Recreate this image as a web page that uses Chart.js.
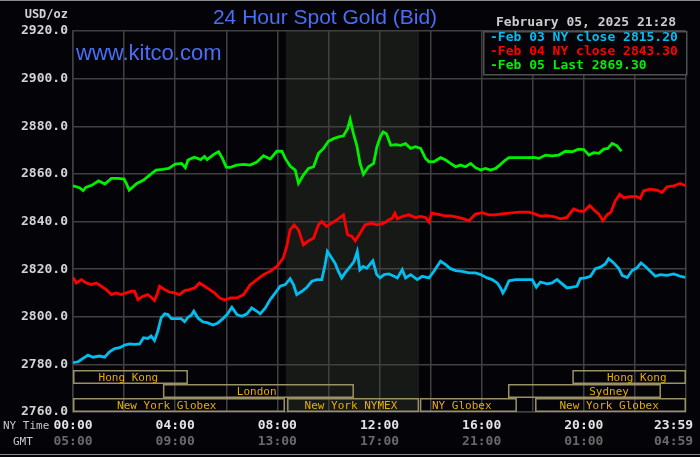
<!DOCTYPE html>
<html><head><meta charset="utf-8">
<script src="https://cdn.jsdelivr.net/npm/chart.js@4.4.1/dist/chart.umd.min.js"></script>
<style>html,body{margin:0;padding:0;background:#040308;overflow:hidden}</style>
</head><body>
<canvas id="c" width="700" height="457"></canvas>
<script>
// ---- data (hours after 00:00 NY time, USD/oz) ----
const cyanHours = [0,0.2,0.39,0.59,0.78,1.04,1.24,1.43,1.63,1.83,2.02,2.22,2.41,2.61,2.76,2.93,3.06,3.19,3.32,3.45,3.59,3.72,3.85,4.04,4.24,4.37,4.5,4.63,4.73,4.89,5.08,5.28,5.48,5.67,5.87,6.03,6.22,6.42,6.61,6.81,7.0,7.2,7.33,7.53,7.72,7.92,8.11,8.31,8.5,8.63,8.76,8.96,9.16,9.35,9.55,9.74,9.87,9.96,10.09,10.26,10.39,10.52,10.65,10.85,11.0,11.13,11.23,11.36,11.5,11.74,11.89,12.02,12.18,12.37,12.57,12.7,12.89,13.02,13.22,13.48,13.67,13.94,14.13,14.39,14.59,14.78,14.98,15.24,15.5,15.76,15.96,16.22,16.41,16.61,16.74,16.83,16.93,17.07,17.33,17.72,17.98,18.14,18.3,18.56,18.76,18.95,19.15,19.34,19.54,19.73,19.86,20.06,20.26,20.45,20.65,20.84,20.97,21.17,21.37,21.5,21.7,21.89,22.08,22.24,22.41,22.6,22.8,22.99,23.26,23.52,23.78,23.97];
const cyanPrices = [2780.7,2781.1,2782.5,2783.9,2783.0,2783.5,2783.0,2785.3,2786.6,2787.0,2788.1,2788.6,2788.4,2788.6,2791.2,2790.9,2791.9,2790.0,2793.9,2799.5,2801.2,2800.9,2799.2,2799.2,2799.2,2797.9,2799.8,2800.6,2802.3,2799.5,2797.9,2797.4,2796.5,2797.4,2799.2,2800.9,2804.0,2800.9,2800.2,2801.2,2803.7,2802.3,2801.2,2803.7,2807.2,2810.0,2812.8,2813.5,2816.0,2813.5,2809.3,2810.7,2812.4,2814.9,2815.6,2815.6,2821.8,2827.4,2825.3,2822.5,2819.0,2816.3,2818.4,2821.1,2823.2,2827.4,2819.7,2821.1,2820.4,2823.5,2817.7,2816.3,2817.7,2818.0,2817.0,2816.3,2819.8,2816.3,2817.7,2815.6,2817.0,2816.3,2819.1,2823.3,2821.9,2820.2,2819.4,2819.1,2818.4,2818.4,2817.7,2816.3,2815.6,2814.2,2812.1,2810.0,2811.8,2815.1,2815.6,2815.6,2815.6,2812.4,2814.6,2813.8,2814.2,2815.6,2813.8,2812.1,2812.4,2812.8,2816.0,2816.3,2817.0,2820.2,2820.8,2822.2,2824.4,2822.6,2820.2,2817.4,2816.5,2819.4,2820.5,2822.6,2821.1,2819.1,2817.0,2817.7,2817.4,2818.0,2817.0,2816.5];

const redHours = [0,0.13,0.33,0.52,0.72,0.91,1.11,1.3,1.5,1.69,1.89,2.09,2.28,2.41,2.54,2.74,2.93,3.06,3.19,3.29,3.39,3.59,3.78,3.98,4.17,4.37,4.56,4.76,4.95,5.15,5.35,5.54,5.74,5.93,6.16,6.42,6.68,6.94,7.2,7.46,7.72,7.98,8.23,8.37,8.5,8.66,8.83,9.02,9.22,9.42,9.61,9.74,9.93,10.12,10.33,10.59,10.75,10.92,11.05,11.24,11.44,11.7,11.89,12.18,12.37,12.5,12.6,12.7,12.89,13.15,13.41,13.61,13.8,13.94,14.04,14.26,14.52,14.78,15.04,15.3,15.5,15.76,16.02,16.28,16.54,16.8,17.07,17.46,17.85,18.04,18.3,18.56,18.82,19.08,19.34,19.47,19.6,19.8,20.0,20.23,20.39,20.59,20.75,20.91,21.06,21.23,21.4,21.56,21.82,22.08,22.21,22.34,22.6,22.86,23.06,23.26,23.52,23.78,23.98];
const redPrices = [2816.5,2814.2,2815.6,2814.2,2813.5,2814.2,2812.8,2811.4,2809.3,2810.0,2809.3,2810.0,2810.7,2810.7,2807.2,2808.6,2809.3,2808.2,2806.8,2809.3,2812.8,2811.4,2810.3,2810.0,2809.3,2811.0,2811.4,2812.1,2814.2,2812.8,2811.4,2810.0,2807.9,2807.0,2807.9,2807.9,2809.3,2813.5,2815.6,2817.7,2819.1,2821.1,2824.6,2829.5,2836.5,2838.6,2836.5,2830.2,2831.9,2833.0,2838.6,2840.0,2837.9,2839.3,2840.7,2842.8,2834.4,2833.7,2831.9,2835.1,2838.6,2839.3,2838.6,2839.3,2840.7,2841.4,2843.5,2841.1,2842.1,2842.8,2841.7,2842.1,2841.7,2839.7,2843.5,2843.1,2842.5,2842.4,2841.8,2841.1,2840.3,2843.1,2843.7,2842.8,2842.8,2843.2,2843.5,2843.9,2843.9,2843.3,2842.3,2842.5,2842.1,2841.1,2841.7,2843.5,2845.3,2844.5,2844.2,2846.7,2844.9,2843.1,2840.3,2842.8,2843.9,2848.6,2851.4,2850.0,2850.4,2850.4,2849.7,2852.8,2853.6,2853.2,2852.2,2854.6,2855.0,2856.0,2855.0];

const greenHours = [0,0.25,0.4,0.5,0.75,1.0,1.25,1.5,1.75,2.0,2.1,2.2,2.5,2.75,3.0,3.25,3.5,3.75,4.0,4.25,4.4,4.5,4.75,5.0,5.15,5.25,5.5,5.7,5.85,6.0,6.15,6.4,6.68,6.94,7.2,7.46,7.72,7.98,8.18,8.31,8.5,8.7,8.83,9.02,9.22,9.42,9.61,9.81,10.0,10.2,10.4,10.59,10.75,10.85,10.98,11.11,11.24,11.37,11.57,11.77,11.9,12.03,12.14,12.27,12.44,12.63,12.83,13.02,13.22,13.41,13.61,13.8,13.94,14.13,14.39,14.59,14.78,14.98,15.17,15.37,15.57,15.76,15.96,16.15,16.35,16.55,16.74,16.93,17.07,17.46,17.85,18.04,18.24,18.5,18.76,19.02,19.28,19.54,19.8,20.0,20.2,20.39,20.59,20.78,20.94,21.11,21.3,21.47];
const greenPrices = [2855.0,2854.2,2853.0,2854.3,2855.3,2857.1,2855.7,2858.1,2858.1,2857.8,2855.7,2853.2,2856.0,2857.3,2859.5,2861.6,2861.9,2862.3,2864.1,2864.4,2862.6,2865.8,2867.0,2866.0,2867.3,2866.0,2868.1,2869.3,2866.5,2862.8,2862.7,2863.7,2864.0,2863.7,2865.0,2867.6,2866.2,2869.5,2869.5,2866.5,2863.3,2861.6,2856.0,2859.5,2862.3,2863.0,2868.6,2870.7,2873.7,2874.8,2875.5,2876.0,2879.0,2882.9,2876.9,2872.0,2864.4,2859.8,2863.0,2864.4,2871.4,2875.5,2877.6,2876.9,2872.0,2872.3,2872.0,2872.7,2870.7,2871.4,2870.7,2866.5,2865.1,2865.1,2866.8,2865.8,2864.4,2863.0,2863.7,2863.0,2864.4,2862.6,2861.6,2862.3,2861.6,2862.3,2864.0,2865.8,2866.8,2866.8,2866.8,2866.9,2866.5,2867.9,2867.6,2867.9,2869.5,2869.3,2870.4,2870.2,2867.9,2868.9,2868.6,2870.4,2870.7,2872.8,2871.8,2869.5];

const legendLabels = ['Feb 03 NY close 2815.20', 'Feb 04 NY close 2843.30', 'Feb 05 Last 2869.30'];
const nyTickHours = [0, 4, 8, 12, 16, 20, 23.983];
const nyTickLabels = ['00:00', '04:00', '08:00', '12:00', '16:00', '20:00', '23:59'];
const gmtTickLabels = ['05:00', '09:00', '13:00', '17:00', '21:00', '01:00', '04:59'];
const gridHours = [0,2,4,6,8,10,12,14,16,18,20,22,24];
const nymexHours = [8.33, 13.55];
// sessions: row, start hour, end hour, label, label centre hour
const sessionRows = [1,1,2,2,3,3,3,3];
const sessionStart = [0, 19.55, 3.52, 17.03, 0, 8.38, 13.58, 18.09];
const sessionEnd = [4.5, 24, 11.0, 23.02, 8.3, 13.55, 17.38, 24];
const sessionNames = ['Hong Kong','Hong Kong','London','Sydney','New York Globex','New York NYMEX','NY Globex','New York Globex'];
const sessionLabelAt = [2.17, 22.07, 7.19, 20.99, 3.67, 10.88, 15.22, 20.99];

const BG = '#040308';
const GRID = '#404040';
const MONO = '"DejaVu Sans Mono", monospace';
const lineColors = ['#00bff0', '#ff0000', '#00f000'];

const pts = (h, p) => h.map((v, i) => ({x: v, y: p[i]}));

const deco = {
  id: 'deco',
  beforeDraw(chart) {
    const {ctx, chartArea: a, scales: {x}} = chart;
    ctx.save();
    ctx.fillStyle = BG;
    ctx.fillRect(0, 0, chart.width, chart.height);
    const x0 = x.getPixelForValue(nymexHours[0]), x1 = x.getPixelForValue(nymexHours[1]);
    ctx.fillStyle = '#171917';
    ctx.fillRect(x0, a.top, x1 - x0, a.bottom - a.top);
    ctx.restore();
  },
  afterDraw(chart) {
    const {ctx, chartArea: a, scales: {x}} = chart;
    ctx.save();
    // frame lines
    ctx.fillStyle = '#8a8a8a';
    ctx.fillRect(0, 0, chart.width, 1);
    ctx.fillRect(0, 454, chart.width, 1);
    // sessions
    const rowH = 14;
    ctx.lineWidth = 1.5;
    ctx.strokeStyle = '#9a9266';
    ctx.font = '11px ' + MONO;
    ctx.textAlign = 'center';
    ctx.textBaseline = 'middle';
    for (let i = 0; i < sessionNames.length; i++) {
      const top = a.bottom - (4 - sessionRows[i]) * rowH;
      const xs = x.getPixelForValue(sessionStart[i]);
      const xe = x.getPixelForValue(sessionEnd[i]);
      ctx.strokeRect(xs + 0.75, top + 0.75, xe - xs - 1.5, rowH - 1.5);
    }
    ctx.fillStyle = '#e6ae00';
    for (let i = 0; i < sessionNames.length; i++) {
      const top = a.bottom - (4 - sessionRows[i]) * rowH;
      ctx.fillText(sessionNames[i], x.getPixelForValue(sessionLabelAt[i]), top + rowH / 2 + 1);
    }
    // x labels
    ctx.font = 'bold 13px ' + MONO;
    nyTickHours.forEach((h, i) => {
      let px = x.getPixelForValue(h);
      if (i === nyTickHours.length - 1) px -= 12;
      ctx.fillStyle = '#e4e4e4';
      ctx.fillText(nyTickLabels[i], px, 426);
      ctx.fillStyle = '#6a6a6a';
      ctx.fillText(gmtTickLabels[i], px, 442);
    });
    ctx.font = '11px ' + MONO;
    ctx.textAlign = 'left';
    ctx.fillStyle = '#c8c8c8';
    ctx.fillText('NY Time', 3, 426);
    ctx.fillText('GMT', 13, 442);
    // unit
    ctx.font = 'bold 12px ' + MONO;
    ctx.textAlign = 'right';
    ctx.fillStyle = '#d4d4d4';
    ctx.fillText('USD/oz', 68, 15);
    // title
    ctx.font = '21px "Liberation Sans", Arial, sans-serif';
    ctx.textAlign = 'center';
    ctx.fillStyle = '#4a6ef5';
    ctx.fillText('24 Hour Spot Gold (Bid)', 325, 18);
    ctx.font = '22px "Liberation Sans", Arial, sans-serif';
    ctx.textAlign = 'left';
    ctx.fillText('www.kitco.com', 76, 54);
    // date
    ctx.font = 'bold 13px ' + MONO;
    ctx.fillStyle = '#cccccc';
    ctx.fillText('February 05, 2025 21:28', 496, 23);
    // legend box
    ctx.fillStyle = BG;
    ctx.fillRect(483, a.top, 204, 44);
    ctx.strokeStyle = '#505050';
    ctx.lineWidth = 1.5;
    ctx.strokeRect(483.75, a.top + 0.75, 203, 43);
    legendLabels.forEach((t, i) => {
      ctx.fillStyle = lineColors[i];
      ctx.fillText('-' + t, 490, a.top + 7 + i * 14);
    });
    ctx.restore();
  }
};

new Chart(document.getElementById('c'), {
  type: 'line',
  data: {
    datasets: [
      {data: pts(cyanHours, cyanPrices), borderColor: lineColors[0]},
      {data: pts(redHours, redPrices), borderColor: lineColors[1]},
      {data: pts(greenHours, greenPrices), borderColor: lineColors[2]}
    ].map(d => Object.assign(d, {borderWidth: 2.8, pointRadius: 0, tension: 0, fill: false}))
  },
  options: {
    responsive: false, animation: false, devicePixelRatio: 1,
    layout: {padding: {top: 31, right: 14, left: 0, bottom: 0}},
    plugins: {legend: {display: false}, tooltip: {enabled: false}, title: {display: false}},
    scales: {
      x: {
        type: 'linear', min: 0, max: 24,
        afterBuildTicks: s => { s.ticks = gridHours.map(v => ({value: v})); },
        ticks: {display: false},
        grid: {color: GRID, lineWidth: 1.5, drawTicks: false},
        border: {color: GRID, width: 1.5},
        afterFit: s => { s.height = 45; }
      },
      y: {
        min: 2760, max: 2920,
        ticks: {stepSize: 20, callback: v => v.toFixed(1), color: '#d4d4d4', padding: 5,
                font: {family: MONO, size: 13, weight: 'bold'}},
        grid: {color: GRID, lineWidth: 1.5, drawTicks: false},
        border: {color: GRID, width: 1.5},
        afterFit: s => { s.width = 73; }
      }
    }
  },
  plugins: [deco]
});
</script>
</body></html>
